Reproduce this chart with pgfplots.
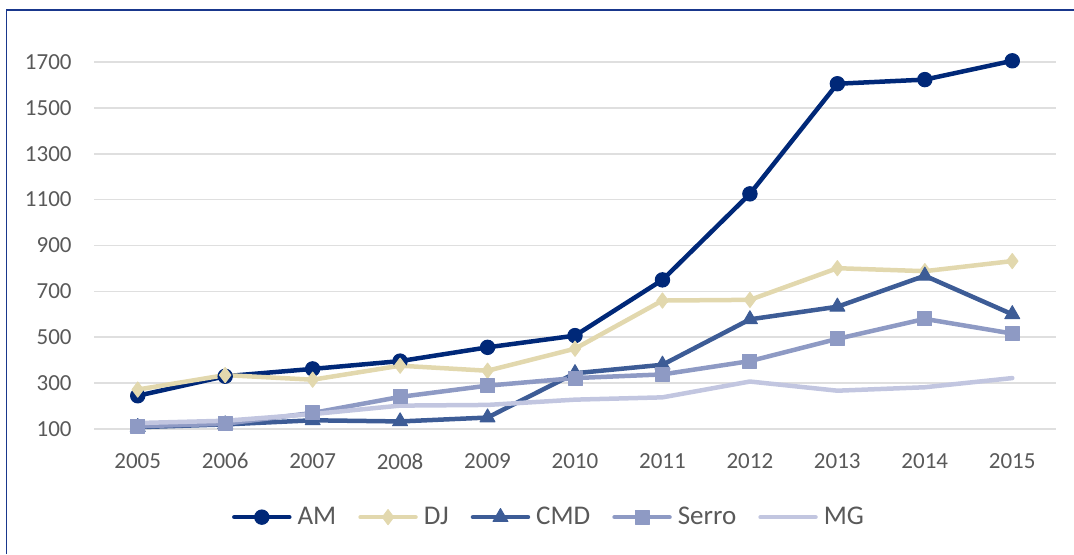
\documentclass[border=0pt]{standalone}
\usepackage{fontspec}
\setmainfont{Carlito}
\usepackage{pgfplots}
\pgfplotsset{compat=1.18}

\definecolor{amc}{RGB}{0,40,120}
\definecolor{djc}{RGB}{226,216,174}
\definecolor{cmdc}{RGB}{61,92,150}
\definecolor{serroc}{RGB}{142,154,196}
\definecolor{mgc}{RGB}{194,198,224}
\definecolor{framec}{RGB}{25,55,140}
\definecolor{txt}{RGB}{89,89,89}

\begin{document}
\begin{tikzpicture}
\useasboundingbox (0,0) rectangle (537pt,277pt);
% frame (only top and left edges are visible in the crop)
\draw[framec,line width=0.9pt] (3.25pt,0pt) -- (3.25pt,272pt) -- (537pt,272pt);
\begin{axis}[
    at={(47pt,62.5pt)}, anchor=south west,
    scale only axis,
    width=481pt, height=195pt,
    xmin=2004.5, xmax=2015.5,
    ymin=100, ymax=1800,
    xtick={2005,...,2015},
    ytick={100,300,...,1700},
    /pgf/number format/1000 sep={},
    axis line style={draw=none},
    tick style={draw=none},
    ymajorgrids,
    grid style={gray!25, line width=0.8pt},
    font=\fontsize{11.5}{13}\selectfont,
    tick label style={text=txt, inner sep=0pt},
    yticklabel style={anchor=east, xshift=-11pt},
    xticklabel style={anchor=north, yshift=-12pt},
    /pgf/number format/assume math mode=true,
    every axis plot/.append style={line width=2.25pt, line cap=round, line join=round},
    legend columns=5,
    legend style={at={(0.474,-0.226)}, anchor=center, draw=none, fill=none,
        font=\fontsize{13.5}{15}\selectfont, text=txt,
        /tikz/every odd column/.append style={column sep=1pt},
        /tikz/every even column/.append style={column sep=9pt},
        inner sep=0pt},
    legend cell align=left,
    legend image code/.code={\draw[mark repeat=2,mark phase=2,#1] plot coordinates {(0pt,0pt) (13.75pt,0pt) (27.5pt,0pt)};},
]
\addplot[amc, mark=*, mark size=3.6pt, mark options={line width=0.5pt}] coordinates {
(2005,245) (2006,330) (2007,362) (2008,396) (2009,456) (2010,507)
(2011,750) (2012,1125) (2013,1605) (2014,1623) (2015,1705)};
\addlegendentry{AM}
\addplot[djc, mark=diamond*, mark size=3.8pt, mark options={line width=0.5pt}] coordinates {
(2005,272) (2006,335) (2007,315) (2008,376) (2009,354) (2010,450)
(2011,660) (2012,663) (2013,801) (2014,788) (2015,832)};
\addlegendentry{DJ}
\addplot[cmdc, mark=triangle*, mark size=4.3pt, mark options={line width=0.5pt}] coordinates {
(2005,108) (2006,120) (2007,138) (2008,133) (2009,150) (2010,343)
(2011,380) (2012,578) (2013,633) (2014,768) (2015,600)};
\addlegendentry{CMD}
\addplot[serroc, mark=square*, mark size=3.5pt, mark options={line width=0.5pt}] coordinates {
(2005,112) (2006,123) (2007,170) (2008,240) (2009,289) (2010,322)
(2011,338) (2012,396) (2013,493) (2014,580) (2015,516)};
\addlegendentry{Serro}
\addplot[mgc, no marks] coordinates {
(2005,126) (2006,136) (2007,165) (2008,202) (2009,205) (2010,228)
(2011,238) (2012,307) (2013,267) (2014,282) (2015,322)};
\addlegendentry{MG}
\end{axis}
\end{tikzpicture}
\end{document}
